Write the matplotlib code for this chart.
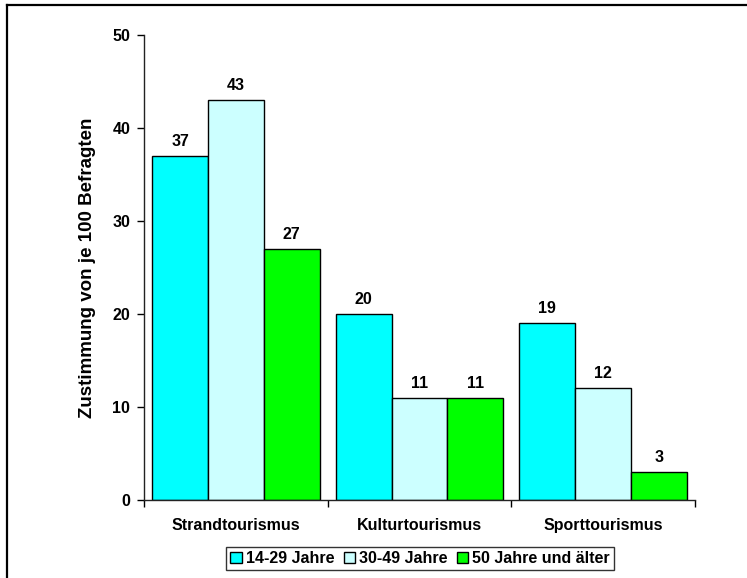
import matplotlib
matplotlib.use("Agg")
import matplotlib.pyplot as plt
from matplotlib.lines import Line2D
import numpy as np

plt.rcParams['font.family'] = ['Liberation Sans', 'DejaVu Sans']
plt.rcParams['font.weight'] = 'bold'

categories = ["Strandtourismus", "Kulturtourismus", "Sporttourismus"]
series_names = ["14-29 Jahre", "30-49 Jahre", "50 Jahre und älter"]
values_14_29 = [37, 20, 19]
values_30_49 = [43, 11, 12]
values_50plus = [27, 11, 3]
colors = ["#00FFFF", "#CCFFFF", "#00FF00"]
y_ticks = [0, 10, 20, 30, 40, 50]

fig = plt.figure(figsize=(7.47, 5.78), dpi=100)
ax = fig.add_axes([0.1928, 0.135, 0.9304 - 0.1928, 0.9394 - 0.135])

x = np.arange(len(categories))
w = 0.304
all_series = [values_14_29, values_30_49, values_50plus]
for i, (vals, col, name) in enumerate(zip(all_series, colors, series_names)):
    bars = ax.bar(x + (i - 1) * w, vals, width=w, color=col, edgecolor='black',
                  linewidth=1.0, label=name)
    for b, v in zip(bars, vals):
        ax.annotate(str(v), (b.get_x() + b.get_width() / 2, v), xytext=(0, 5),
                    textcoords='offset points', ha='center', va='bottom',
                    fontsize=11.5, fontweight='bold')

ax.set_xlim(-0.5, 2.5)
ax.set_ylim(0, 50)
ax.set_yticks(y_ticks)
ax.set_yticklabels([str(t) for t in y_ticks], fontsize=11.5, fontweight='bold')
ax.set_xticks([-0.5, 0.5, 1.5, 2.5])
ax.set_xticklabels([])
ax.set_xticks(x, minor=True)
ax.set_xticklabels(categories, minor=True, fontsize=11.5, fontweight='bold')
ax.tick_params(axis='x', which='minor', length=0, pad=13)
ax.tick_params(axis='x', which='major', length=5, direction='out', width=1)
ax.tick_params(axis='y', length=5, direction='out', width=1, pad=5)
for s in ['top', 'right']:
    ax.spines[s].set_visible(False)
for s in ['left', 'bottom']:
    ax.spines[s].set_color('#222222')
    ax.spines[s].set_linewidth(1.0)

ax.set_ylabel("Zustimmung von je 100 Befragten", fontsize=13.5, fontweight='bold', labelpad=12)

leg = fig.legend(loc='center', bbox_to_anchor=(420 / 747, 1 - 558.5 / 578), ncol=3,
                 frameon=True, fancybox=False, edgecolor='black', fontsize=11.5,
                 handlelength=0.7, handleheight=0.7, handletextpad=0.25,
                 columnspacing=0.6, borderpad=0.25, borderaxespad=0)
leg.get_frame().set_linewidth(1.0)
for t in leg.get_texts():
    t.set_fontweight('bold')

fig.add_artist(Line2D([7 / 747, 7 / 747], [0, 1 - 5 / 578], transform=fig.transFigure,
                      color='black', linewidth=1.6))
fig.add_artist(Line2D([7 / 747, 1], [1 - 5 / 578, 1 - 5 / 578], transform=fig.transFigure,
                      color='black', linewidth=1.6))

fig.savefig("out.png", dpi=100)
